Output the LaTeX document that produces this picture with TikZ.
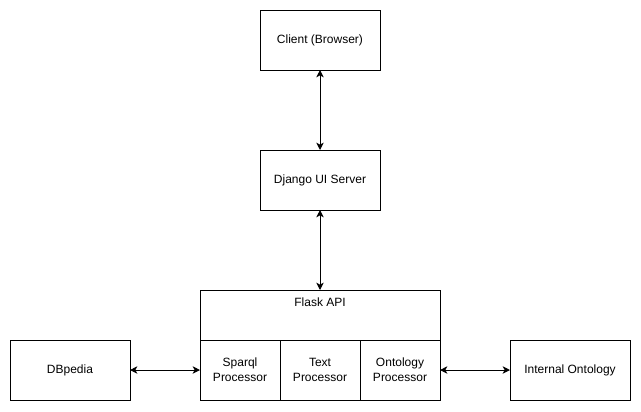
\documentclass[tikz,border=0pt]{standalone}
\usepackage{fontspec}
\setmainfont{Liberation Sans}
\usepackage{tikz}
\usetikzlibrary{positioning,arrows.meta}

\begin{document}
\begin{tikzpicture}[
		x=0.75pt, y=-0.75pt,
		box/.style={rectangle,draw,line width=0.75pt,outer sep=0pt,
		minimum width=90pt,minimum height=45pt,align=center,
		font=\fontsize{9}{11}\selectfont},
		subbox/.style={box,minimum width=60pt},
		link/.style={{Stealth[length=5.5pt,width=5.5pt,inset=1.5pt]}-{Stealth[length=5.5pt,width=5.5pt,inset=1.5pt]},line width=0.75pt}
		]
		\useasboundingbox (0,0) rectangle (641,411);
		
		\node[box] (client) at (320,40) {Client (Browser)};
		\node[box, below=60pt of client] (django) {Django UI Server};
		\node[box, minimum width=180pt, minimum height=82.5pt, below=60pt of django] (flask) {};
		\node[font=\fontsize{9}{11}\selectfont, below=2pt of flask.north] (flasktxt) {Flask API};
		
		% processors inside the api box
		\node[subbox, anchor=south] (text) at (flask.south) {Text\\Processor};
		\node[subbox, left=0pt of text] (sparql) {Sparql\\Processor};
		\node[subbox, right=0pt of text] (onto) {Ontology\\Processor};
		
		\node[box, left=52.5pt of sparql] (dbpedia) {DBpedia};
		\node[box, right=52.5pt of onto] (internal) {Internal Ontology};
		
		\draw[link] (client) -- (django);
		\draw[link] (django) -- (flask);
		\draw[link] (dbpedia) -- (sparql);
		\draw[link] (onto) -- (internal);
	\end{tikzpicture}
\end{document}
